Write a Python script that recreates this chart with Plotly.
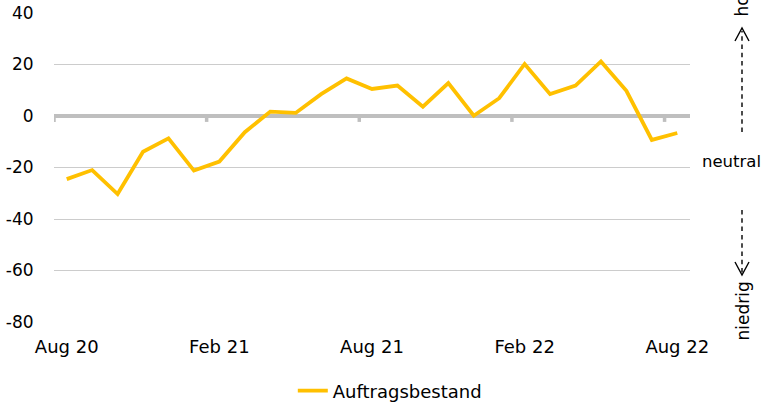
import plotly.graph_objects as go

# Monthly order-backlog balance (Auftragsbestand), Aug 2020 - Aug 2022
months = [
    "Aug 20", "Sep 20", "Okt 20", "Nov 20", "Dez 20",
    "Jan 21", "Feb 21", "Mär 21", "Apr 21", "Mai 21", "Jun 21", "Jul 21",
    "Aug 21", "Sep 21", "Okt 21", "Nov 21", "Dez 21",
    "Jan 22", "Feb 22", "Mär 22", "Apr 22", "Mai 22", "Jun 22", "Jul 22",
    "Aug 22",
]
auftragsbestand = [
    -24.5, -21.0, -30.3, -13.9, -8.7,
    -21.2, -17.7, -6.3, 1.7, 1.2, 8.5, 14.6,
    10.5, 11.8, 3.6, 12.8, 0.1,
    6.9, 20.2, 8.5, 11.8, 21.2, 9.8, -9.3,
    -6.6,
]
tick_labels = months[::6]
y_ticks = [-80, -60, -40, -20, 0, 20, 40]
y_tick_text = ["-80", "-60", "-40", "-20", "0", "20", "40"]

W, H = 764, 402
ML, MR, MT, MB = 54, 74, 13, 80
PW, PH = W - ML - MR, H - MT - MB

FONT = "DejaVu Sans"
GOLD = "#FFC000"
AXIS_GREY = "#BFBFBF"


def px_x(p):
    """pixel column -> paper x"""
    return (p - ML) / PW


def px_y(p):
    """pixel row -> paper y"""
    return (H - MB - p) / PH


fig = go.Figure()
fig.add_trace(go.Scatter(
    x=months, y=auftragsbestand, mode="lines", name="Auftragsbestand",
    line=dict(color=GOLD, width=3.8),
))

shapes = []
# small tick marks hanging under the zero line, every six months
for i in range(0, len(months), 6):
    shapes.append(dict(
        type="line", xref="x", yref="y",
        x0=i - 0.5, x1=i - 0.5, y0=0, y1=-2.3,
        line=dict(color=AXIS_GREY, width=3.5), layer="above",
    ))

# dashed guide arrows on the right: up = hoch, down = niedrig
arrow_x = 742
dash = dict(color="#000000", width=1.4, dash="4.5px,3.8px")
shapes.append(dict(type="line", xref="paper", yref="paper",
                   x0=px_x(arrow_x), x1=px_x(arrow_x),
                   y0=px_y(132), y1=px_y(31), line=dash))
shapes.append(dict(type="line", xref="paper", yref="paper",
                   x0=px_x(arrow_x), x1=px_x(arrow_x),
                   y0=px_y(210), y1=px_y(273), line=dash))
chev = dict(color="#000000", width=1.4)
shapes.append(dict(
    type="path", xref="paper", yref="paper",
    path=(f"M{px_x(735)},{px_y(41)} L{px_x(arrow_x)},{px_y(28)} "
          f"L{px_x(749)},{px_y(41)}"),
    line=chev,
))
shapes.append(dict(
    type="path", xref="paper", yref="paper",
    path=(f"M{px_x(735)},{px_y(262)} L{px_x(arrow_x)},{px_y(275)} "
          f"L{px_x(749)},{px_y(262)}"),
    line=chev,
))

annotations = [
    dict(text="hoch", xref="paper", yref="paper", x=px_x(arrow_x), y=px_y(19),
         xanchor="center", yanchor="bottom", textangle=-90, showarrow=False,
         font=dict(family=FONT, size=17, color="#000000")),
    dict(text="niedrig", xref="paper", yref="paper", x=px_x(arrow_x), y=px_y(280),
         xanchor="center", yanchor="top", textangle=-90, showarrow=False,
         font=dict(family=FONT, size=17, color="#000000")),
    dict(text="neutral", xref="paper", yref="paper", x=px_x(700), y=px_y(161),
         xanchor="left", yanchor="middle", showarrow=False,
         font=dict(family=FONT, size=16.5, color="#000000")),
]

fig.update_layout(
    width=W, height=H,
    margin=dict(l=ML, r=MR, t=MT, b=MB, pad=0, autoexpand=False),
    paper_bgcolor="white", plot_bgcolor="white",
    font=dict(family=FONT, size=18, color="#000000"),
    showlegend=True,
    legend=dict(orientation="h", x=0.528, xanchor="center", y=px_y(391),
                yanchor="middle", font=dict(family=FONT, size=18),
                bgcolor="rgba(0,0,0,0)"),
    shapes=shapes,
    annotations=annotations,
)
fig.update_xaxes(
    type="category", range=[-0.5, len(months) - 0.5],
    tickvals=tick_labels, ticktext=tick_labels,
    showgrid=False, zeroline=False, showline=False, automargin=False,
    ticks="outside", ticklen=8, tickcolor="rgba(0,0,0,0)",
    tickfont=dict(family=FONT, size=18, color="#000000"),
)
fig.update_yaxes(
    range=[-80, 40], tickvals=y_ticks, ticktext=y_tick_text, automargin=False,
    showgrid=True, gridcolor="#CCCCCC", gridwidth=1.3,
    zeroline=True, zerolinecolor=AXIS_GREY, zerolinewidth=4,
    showline=False,
    ticks="outside", ticklen=16, tickcolor="rgba(0,0,0,0)",
    tickfont=dict(family=FONT, size=17, color="#000000"),
)

fig.write_html("out.html")
